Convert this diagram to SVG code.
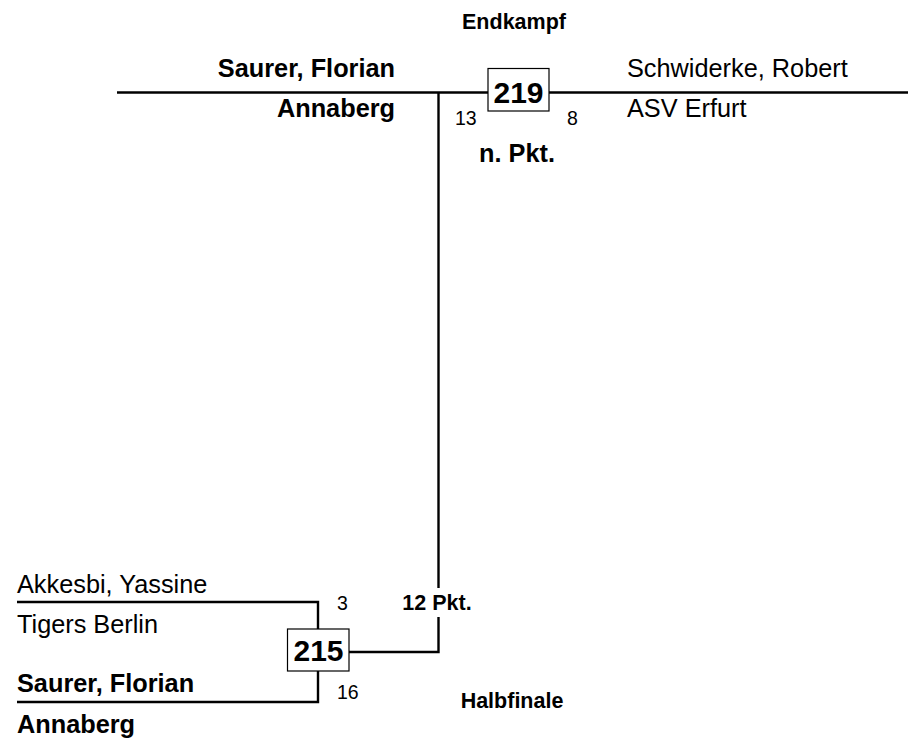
<svg xmlns="http://www.w3.org/2000/svg" width="908" height="741" viewBox="0 0 908 741">
<style>
text{font-family:"Liberation Sans",Arial,sans-serif;fill:#000}
.b{font-weight:bold}
.name{font-size:25.3px}
.num{font-size:30px;font-weight:bold;text-anchor:middle}
.sc{font-size:19.5px}
.lab{font-size:21.5px;font-weight:bold;text-anchor:middle}
.ln{stroke:#000;stroke-width:2.4;fill:none}
.box{fill:#fff;stroke:#000;stroke-width:1.2}
</style>
<rect width="908" height="741" fill="#fff"/>
<g id="connectors">
<line class="ln" x1="117" y1="92.5" x2="908" y2="92.5"/>
<polyline class="ln" points="438.5,92.5 438.5,588"/>
<polyline class="ln" points="438.5,617 438.5,652 349,652"/>
<polyline class="ln" points="17,602 318,602 318,629"/>
<polyline class="ln" points="318,671 318,702 17,702"/>
</g>
<g id="title-final"><text class="lab" x="514" y="29">Endkampf</text></g>
<g id="title-semi"><text class="lab" x="512" y="708">Halbfinale</text></g>
<g id="match-219">
<rect class="box" x="488" y="68.5" width="61" height="42.5"/>
<text class="num" x="518.5" y="102.5">219</text>
<text class="sc" x="455" y="125">13</text>
<text class="sc" x="567" y="125">8</text>
<text class="name b" x="517" y="162" text-anchor="middle">n. Pkt.</text>
</g>
<g id="player-saurer-top">
<text class="name b" x="395" y="77" text-anchor="end">Saurer, Florian</text>
<text class="name b" x="395" y="117" text-anchor="end">Annaberg</text>
</g>
<g id="player-schwiderke">
<text class="name" x="627" y="77">Schwiderke, Robert</text>
<text class="name" x="627" y="117">ASV Erfurt</text>
</g>
<g id="match-215">
<rect class="box" x="287.5" y="629" width="61.5" height="42"/>
<text class="num" x="318.5" y="660.5">215</text>
<text class="sc" x="337" y="610">3</text>
<text class="sc" x="337" y="699">16</text>
<text class="lab" x="437" y="610">12 Pkt.</text>
</g>
<g id="player-akkesbi">
<text class="name" x="17" y="593">Akkesbi, Yassine</text>
<text class="name" x="17" y="633">Tigers Berlin</text>
</g>
<g id="player-saurer-bottom">
<text class="name b" x="17" y="691.5">Saurer, Florian</text>
<text class="name b" x="17" y="733">Annaberg</text>
</g>
</svg>
